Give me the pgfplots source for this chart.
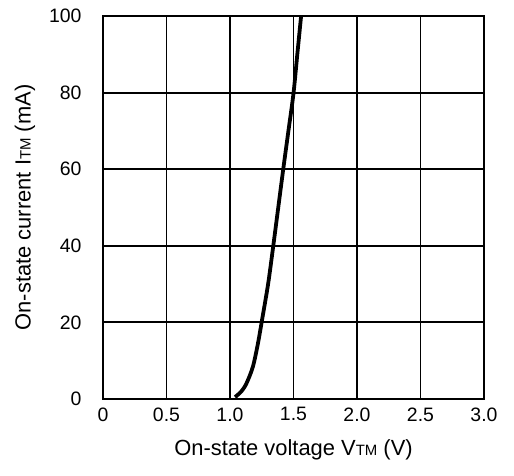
\documentclass[border=0pt]{standalone}
\usepackage{fontspec}
\setmainfont{Liberation Sans}
\usepackage{pgfplots}
\pgfplotsset{compat=1.18}
\begin{document}
\begin{tikzpicture}
\begin{axis}[
  name=ax,
  scale only axis,
  width=381bp, height=383bp,
  xmin=0, xmax=3, ymin=0, ymax=100,
  xtick={0,0.5,1,1.5,2,2.5,3},
  xticklabels={0,0.5,1.0,1.5,2.0,2.5,3.0},
  ytick={0,20,40,60,80,100},
  /pgf/number format/assume math mode=true,
  tick label style={font=\fontsize{19.5}{22}\selectfont},
  xticklabel style={yshift=-5bp},
  yticklabel style={xshift=-18bp},
  major tick length=0pt,
  grid=major,
  grid style={black, line width=2pt},
  axis line style={black, line width=2pt},
  xlabel={On-state voltage V{\fontsize{15}{16}\selectfont TM} (V)},
  ylabel={On-state current I{\fontsize{15}{16}\selectfont TM} (mA)},
  xlabel style={font=\fontsize{22}{25}\selectfont,
    at={([yshift=-51bp]axis description cs:0.5,0)}, anchor=center},
  ylabel style={font=\fontsize{22}{25}\selectfont,
    at={([xshift=-78bp]axis description cs:0,0.5)}, anchor=center, rotate=0},
]
\addplot[black, line width=3.8pt, smooth] coordinates {
  (1.04,0.5) (1.09,2) (1.13,4.1) (1.18,8.4) (1.22,14.5) (1.25,20.2)
  (1.30,30) (1.34,39.8) (1.38,50) (1.42,60.2) (1.46,70) (1.50,79.8)
  (1.53,90) (1.56,100)
};
\end{axis}
% page margins around the plot area
\path ([shift={(-103bp,-77bp)}]ax.south west) ([shift={(30bp,16bp)}]ax.north east);
\end{tikzpicture}
\end{document}
